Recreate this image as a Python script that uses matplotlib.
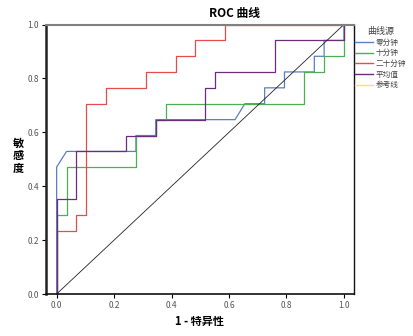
import matplotlib
matplotlib.use("Agg")
import matplotlib.pyplot as plt
from matplotlib.lines import Line2D

plt.rcParams['font.family'] = ['Noto Sans CJK SC', 'DejaVu Sans']

# ROC curves (1 - specificity, sensitivity)
fpr_zero = [0, 0, 0.0345, 0.276, 0.276, 0.345, 0.345, 0.621, 0.655, 0.724, 0.724, 0.793, 0.793, 0.897, 0.897, 0.931, 0.931, 1.0, 1.0]
tpr_zero = [0, 0.471, 0.529, 0.529, 0.588, 0.588, 0.647, 0.647, 0.706, 0.706, 0.765, 0.765, 0.824, 0.824, 0.882, 0.882, 0.941, 0.941, 1.0]

fpr_ten = [0, 0, 0.0345, 0.0345, 0.276, 0.276, 0.345, 0.345, 0.379, 0.379, 0.862, 0.862, 0.931, 0.931, 1.0, 1.0]
tpr_ten = [0, 0.294, 0.294, 0.471, 0.471, 0.588, 0.588, 0.647, 0.647, 0.706, 0.706, 0.824, 0.824, 0.882, 0.882, 1.0]

fpr_twenty = [0, 0, 0.069, 0.069, 0.103, 0.103, 0.172, 0.172, 0.310, 0.310, 0.414, 0.414, 0.483, 0.483, 0.586, 0.586, 1.0]
tpr_twenty = [0, 0.235, 0.235, 0.294, 0.294, 0.706, 0.706, 0.765, 0.765, 0.824, 0.824, 0.882, 0.882, 0.941, 0.941, 1.0, 1.0]

fpr_mean = [0, 0, 0.069, 0.069, 0.241, 0.241, 0.345, 0.345, 0.517, 0.517, 0.552, 0.552, 0.759, 0.759, 1.0, 1.0]
tpr_mean = [0, 0.353, 0.353, 0.529, 0.529, 0.588, 0.588, 0.647, 0.647, 0.765, 0.765, 0.824, 0.824, 0.941, 0.941, 1.0]

ref_x = [0, 1]
ref_y = [0, 1]

labels = ['零分钟', '十分钟', '二十分钟', '平均值', '参考线']
colors = ['#5b7fc4', '#4cb050', '#e64c4c', '#6b2d7c', '#f5e66a']
ticks = [0.0, 0.2, 0.4, 0.6, 0.8, 1.0]

fig = plt.figure(figsize=(4.14, 3.36), dpi=100)
ax = fig.add_axes([46/414, 1-294/336, (354-46)/414, (294-24.5)/336])

series = [(fpr_zero, tpr_zero), (fpr_ten, tpr_ten), (fpr_twenty, tpr_twenty), (fpr_mean, tpr_mean)]
for (x, y), c in zip(series, colors[:4]):
    ax.plot(x, y, color=c, lw=0.9, clip_on=False)
ax.plot(ref_x, ref_y, color='#222222', lw=0.6)

ax.set_xlim(-0.037, 1.035)
ax.set_ylim(0, 1)
ax.set_xticks(ticks)
ax.set_yticks(ticks)
ax.set_xticklabels([f'{t:.1f}' for t in ticks])
ax.set_yticklabels([f'{t:.1f}' for t in ticks])
ax.tick_params(labelsize=6, labelcolor='#555555', length=3, width=0.8, pad=2)

ax.spines['left'].set_linewidth(1.8)
ax.spines['left'].set_color('#222222')
ax.spines['bottom'].set_linewidth(1.2)
ax.spines['bottom'].set_color('#111111')
ax.spines['right'].set_linewidth(1.0)
ax.spines['right'].set_color('#111111')
ax.spines['top'].set_linewidth(1.5)
ax.spines['top'].set_color('#808080')

fig.text(235/414, 1-13/336, 'ROC 曲线', ha='center', va='center', fontsize=8.5, fontweight='bold')
fig.text(200/414, 1-321/336, '1 - 特异性', ha='center', va='center', fontsize=8, fontweight='bold')
fig.text(18/414, 1-156/336, '敏\n感\n度', ha='center', va='center', fontsize=8, fontweight='bold', linespacing=0.95)

handles = [Line2D([0], [0], color=c, lw=1.0) for c in colors]
leg = fig.legend(handles, labels, title='曲线源', loc='upper left', bbox_to_anchor=(355/414, 1-27/336),
                 fontsize=5.5, title_fontsize=6.5, frameon=False, handlelength=2.4, handletextpad=0.3,
                 labelspacing=0.35, borderaxespad=0, borderpad=0)
for t in leg.get_texts():
    t.set_color('#444444')
leg.get_title().set_color('#444444')

fig.savefig('out.png', dpi=100)
